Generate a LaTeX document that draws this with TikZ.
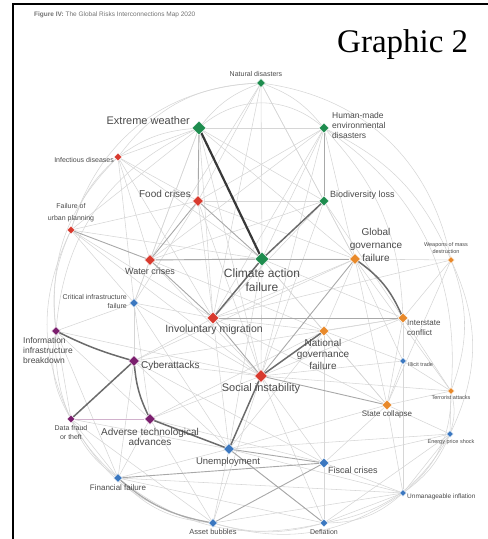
\documentclass[tikz,border=0pt]{standalone}
\usepackage{fontspec}
\setmainfont{Liberation Sans}
\newfontfamily\serifgr{Liberation Serif}
\usetikzlibrary{shapes.geometric,backgrounds}
\definecolor{rgreen}{HTML}{1E8C4E}
\definecolor{rred}{HTML}{D83A2E}
\definecolor{rorange}{HTML}{E8892B}
\definecolor{rblue}{HTML}{3C78C0}
\definecolor{rpurple}{HTML}{7B1F6E}
\definecolor{labc}{HTML}{4A4A4A}

\begin{document}
\begin{tikzpicture}[x=1pt, y=1pt,
  risk/.style={diamond, aspect=1, inner sep=0pt, minimum size=#1pt, draw=white, line width=.3pt},
  lab/.style 2 args={font=\fontsize{#1}{#2}\selectfont, text=labc, inner sep=0pt},
  lk/.style={draw=black!16, line width=.55pt},
  lkm/.style={draw=black!34, line width=.9pt},
  lkd/.style={draw=black!58, line width=1.5pt},
  lkx/.style={draw=black!78, line width=2.2pt}]
  \useasboundingbox (0,0) rectangle (488,-539);
  \draw [line width=1.6pt] (13,-539) -- (13,-4) -- (488,-4);
  \node [lab={6.5}{8}, text=black!55, anchor=west] (hdr) at (34,-15)
    {\textbf{Figure IV:} The Global Risks Interconnections Map 2020};
  \node [font=\serifgr\fontsize{33}{36}\selectfont, anchor=base west, inner sep=0pt] (grph) at (337,-52) {Graphic 2};

  % risks
  \foreach \n/\x/\y/\s/\c in {nd/261/83/9/rgreen, ew/199/128/14/rgreen, hm/324/128/10/rgreen,
      id/118/157/8/rred, fc/198/201/11/rred, bl/324/201/10/rgreen, fu/71/230/8/rred,
      wc/150/260/11/rred, ca/262/259/14/rgreen, gg/355/259/11/rorange, wm/451/260/7/rorange,
      ci/134/303/9/rblue, im/213/318/12/rred, ic/403/318/10/rorange, ng/324/331/10/rorange,
      ia/56/331/9/rpurple, cy/134/361/11/rpurple, it/403/361/7/rblue, si/261/376/13/rred,
      ta/451/391/7/rorange, df/71/419/8/rpurple, at/150/419/11/rpurple, sc/387/405/10/rorange,
      ep/450/434/7/rblue, un/229/449/11/rblue, fi/324/463/10/rblue, ff/118/478/9/rblue,
      ui/403/493/7/rblue, ab/213/523/9/rblue, de/324/523/8/rblue}
    \node [risk=\s, fill=\c] (\n) at (\x,-\y) {};

  \node [lab={7}{8}, anchor=south] (tnd) at (256,-77) {Natural disasters};
  \node [lab={11}{13}, anchor=east] (tew) at (190,-121) {Extreme weather};
  \node [lab={8.5}{10}, anchor=north west, align=left] (thm) at (332,-112) {Human-made\\environmental\\disasters};
  \node [lab={7}{8}, anchor=east] (tid) at (114,-160) {Infectious diseases};
  \node [lab={10}{12}, anchor=east] (tfc) at (191,-194) {Food crises};
  \node [lab={9}{11}, anchor=west] (tbl) at (330,-195) {Biodiversity loss};
  \node [lab={7}{12}, anchor=south, align=center] (tfu) at (71,-222) {Failure of\\urban planning};
  \node [lab={9}{11}] (twc) at (150,-271) {Water crises};
  \node [lab={12}{14}, align=center] (tca) at (262,-280) {Climate action\\failure};
  \node [lab={10}{13}, align=center] (tgg) at (376,-245) {Global\\governance\\failure};
  \node [lab={5.5}{7}, align=center] (twm) at (446,-248) {Weapons of mass\\destruction};
  \node [lab={7}{9}, anchor=east, align=right] (tci) at (127,-301) {Critical infrastructure\\failure};
  \node [lab={10.5}{12}] (tim) at (214,-330) {Involuntary migration};
  \node [lab={8}{9.5}, anchor=west, align=left] (tic) at (407,-328) {Interstate\\conflict};
  \node [lab={10}{11.5}, align=center] (tng) at (323,-354) {National\\governance\\failure};
  \node [lab={8.5}{10}, anchor=north west, align=left] (tia) at (23,-337) {Information\\infrastructure\\breakdown};
  \node [lab={10}{12}, anchor=west] (tcy) at (141,-366) {Cyberattacks};
  \node [lab={5.5}{7}, anchor=west] (tit) at (408,-365) {Illicit trade};
  \node [lab={11}{13}] (tsi) at (261,-389) {Social instability};
  \node [lab={5.5}{7}] (tta) at (451,-398) {Terrorist attacks};
  \node [lab={7}{9}, align=center] (tdf) at (71,-432) {Data fraud\\or theft};
  \node [lab={10}{10.5}, align=center] (tat) at (150,-437) {Adverse technological\\advances};
  \node [lab={8}{10}] (tsc) at (387,-414) {State collapse};
  \node [lab={5.5}{7}] (tep) at (451,-442) {Energy price shock};
  \node [lab={9.5}{11}] (tun) at (228,-462) {Unemployment};
  \node [lab={9}{11}, anchor=west] (tfi) at (328,-470) {Fiscal crises};
  \node [lab={8}{10}] (tff) at (118,-488) {Financial failure};
  \node [lab={6.5}{8}, anchor=west] (tui) at (407,-497) {Unmanageable inflation};
  \node [lab={7.5}{9}] (tab) at (213,-532) {Asset bubbles};
  \node [lab={7}{9}] (tde) at (324,-532) {Deflation};

  \begin{scope}[on background layer]
    % outer arcs
    \foreach \a/\b/\c in {nd/hm/15, hm/wm/20, wm/ta/20, ta/ep/15, ep/ui/15, ui/de/20, de/ab/15,
        ab/ff/20, ff/df/15, df/ia/20, ia/fu/15, fu/id/15, id/ew/15, ew/nd/15,
        ia/ew/30, fu/nd/35, ew/hm/40, nd/wm/35, hm/ic/20, hm/ta/30, wm/ep/25, ta/ui/25,
        ep/de/25, ui/ab/25, de/ff/25, ab/df/25, ff/ia/25, df/fu/25, ia/id/25, id/nd/25}
      \draw [lk] (\a) to [bend left=\c] (\b);
    \foreach \a/\b in {ew/hm, ew/bl, ew/wc, ew/id, ew/im, ew/gg, ew/si, ew/ci, ew/fu,
        nd/ca, nd/fc, nd/bl, nd/wc, nd/gg, nd/im, hm/ca, hm/fc, hm/wc, hm/gg, hm/im, hm/si,
        fc/bl, fc/im, fc/si, fc/id, fc/gg, fc/fu, fc/ci, bl/wc, bl/gg, bl/im, bl/si, bl/ic,
        id/wc, id/ca, id/ci, id/im, fu/ca, fu/im, fu/ci, fu/si, wc/ci, wc/si, wc/gg, wc/ng,
        ca/si, ca/ng, ca/ic, ca/un, ca/sc, gg/wm, gg/ng, gg/sc, gg/it, gg/im, gg/ta, gg/cy,
        wm/ic, wm/sc, wm/im, ci/cy, ci/ia, ci/at, ci/im, ci/si, ci/un,
        im/ng, im/un, im/sc, im/cy, ic/ng, ic/si, ic/it, ic/sc, ic/ta, ic/cy,
        ng/sc, ng/un, ng/fi, ng/at, ia/df, ia/at, ia/si, ia/ff, cy/si, cy/ff, cy/un, cy/fi,
        it/sc, it/ta, it/si, it/ng, it/ui, si/fi, si/at, si/ab, si/de, ta/sc, ta/ep, ta/si,
        df/ff, df/ab, df/un, at/ff, at/ab, at/fi, sc/fi, sc/ep, sc/ui, sc/un,
        ep/fi, ep/ui, ep/de, ep/un, un/ff, un/ab, un/de, un/ui, fi/de, fi/ui,
        ff/de, ff/ui, ab/ui, de/ui}
      \draw [lk] (\a) -- (\b);
    \foreach \a/\b in {fc/wc, fc/ca, wc/ca, wc/im, im/si, fu/wc, hm/bl, ab/fi, ff/fi,
        un/fi, si/sc, ca/gg, im/ic, ew/fc, un/de, gg/si}
      \draw [lkm] (\a) -- (\b);
    \foreach \a/\b in {bl/ca, im/ca, ng/si, cy/df, at/un, si/un}
      \draw [lkd] (\a) -- (\b);
    \draw [lkd] (gg) to [bend left=15] (ic);
    \draw [lkd] (ia) to [bend right=5] (cy);
    \draw [lkd] (cy) to [bend right=10] (at);
    \draw [lkm, line width=1.2pt] (ff) to [bend right=15] (ab);
    \draw [draw=rpurple!35, line width=1pt] (df) -- (at);
    \draw [lkx] (ew) -- (ca);
  \end{scope}
\end{tikzpicture}
\end{document}
